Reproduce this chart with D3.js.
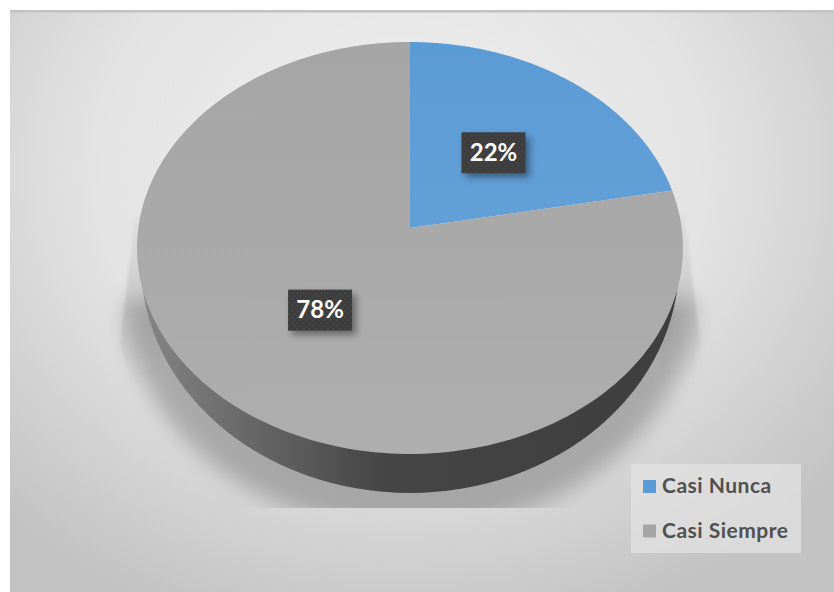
<!DOCTYPE html>
<html>
<head>
<meta charset="utf-8">
<script src="https://d3js.org/d3.v7.min.js"></script>
<style>
html,body{margin:0;padding:0;background:#fff}
svg{display:block}
text{font-family:Lato,"Open Sans",sans-serif}
</style>
</head>
<body>
<svg id="chart" width="834" height="592"></svg>
<script>
const categories = ["Casi Nunca", "Casi Siempre"];
const seriesValues = [22, 78];
const labelTexts = ["22%", "78%"];
const sliceColors = ["#5b9bd5", "#a5a5a5"];

const svg = d3.select("#chart");
const defs = svg.append("defs");

// Panel backdrop: light centre falling off to grey at the edges
const bg = defs.append("radialGradient").attr("id", "panelBg")
  .attr("gradientUnits", "userSpaceOnUse")
  .attr("cx", 400).attr("cy", 170).attr("r", 560)
  .attr("gradientTransform", "translate(400 170) scale(1 0.85) translate(-400 -170)");
bg.append("stop").attr("offset", 0).attr("stop-color", "#f0f0f0");
bg.append("stop").attr("offset", 0.55).attr("stop-color", "#e3e3e3");
bg.append("stop").attr("offset", 1).attr("stop-color", "#c3c3c3");

svg.append("rect").attr("x", 10).attr("y", 10).attr("width", 824).attr("height", 582)
  .attr("fill", "url(#panelBg)");
svg.append("rect").attr("x", 10).attr("y", 10).attr("width", 824).attr("height", 2.5)
  .attr("fill", "#c2c2c2");

// Perspective projection of the unit disc onto the tilted pie plane
const cx = 410, apexY = 228, planeA = 271.7, planeB = 204, tilt = 0.097;
const project = (angle, radius) => {
  const u = Math.sin(angle) * radius;
  const v = -Math.cos(angle) * radius;
  const w = 1 - tilt * v;
  return [cx + planeA * u / w, apexY + planeB * v / w];
};

// Slab edge gradient
const wall = defs.append("linearGradient").attr("id", "wallFill")
  .attr("gradientUnits", "userSpaceOnUse")
  .attr("x1", 137).attr("x2", 683).attr("y1", 0).attr("y2", 0);
wall.append("stop").attr("offset", 0).attr("stop-color", "#868686");
wall.append("stop").attr("offset", 0.25).attr("stop-color", "#616161");
wall.append("stop").attr("offset", 0.45).attr("stop-color", "#454545");
wall.append("stop").attr("offset", 1).attr("stop-color", "#3e3e3e");

const blurWide = defs.append("filter").attr("id", "blurWide")
  .attr("x", "-10%").attr("y", "-10%").attr("width", "120%").attr("height", "120%");
blurWide.append("feGaussianBlur").attr("stdDeviation", 11);
const blurTight = defs.append("filter").attr("id", "blurTight")
  .attr("x", "-30%").attr("y", "-10%").attr("width", "160%").attr("height", "120%");
blurTight.append("feGaussianBlur").attr("stdDeviation", 1.5);

// The cast shadow stops dead along a horizontal line under the slab
defs.append("clipPath").attr("id", "shadowClip").append("rect")
  .attr("x", 0).attr("y", 0).attr("width", 834).attr("height", 508);
defs.append("clipPath").attr("id", "wallClip").append("rect")
  .attr("x", 0).attr("y", 270).attr("width", 834).attr("height", 322);

const shadowLayer = svg.append("g").attr("clip-path", "url(#shadowClip)");

// Soft pool of shadow around the lower half
shadowLayer.append("path")
  .attr("d", "M126,300 C126,420 250,530 410,530 C570,530 694,420 694,300 Z")
  .attr("fill", "#7e7e7e").attr("opacity", 0.55)
  .attr("filter", "url(#blurWide)");

// Crisper wedges rising beside the disc on both flanks
const wedgeFade = defs.append("linearGradient").attr("id", "wedgeFade")
  .attr("x1", 0).attr("x2", 0).attr("y1", 0).attr("y2", 1);
wedgeFade.append("stop").attr("offset", 0).attr("stop-color", "#8c8c8c").attr("stop-opacity", 0.05);
wedgeFade.append("stop").attr("offset", 0.55).attr("stop-color", "#8c8c8c").attr("stop-opacity", 0.3);
wedgeFade.append("stop").attr("offset", 1).attr("stop-color", "#8c8c8c").attr("stop-opacity", 0);
shadowLayer.append("path")
  .attr("d", "M135,215 L120,345 L135,385 L160,385 L160,215 Z")
  .attr("fill", "url(#wedgeFade)").attr("filter", "url(#blurTight)");
shadowLayer.append("path")
  .attr("d", "M685,215 L700,345 L685,385 L660,385 L660,215 Z")
  .attr("fill", "url(#wedgeFade)").attr("filter", "url(#blurTight)");

// Slab side, then the top disc
svg.append("ellipse")
  .attr("cx", cx).attr("cy", 263).attr("rx", 269).attr("ry", 230)
  .attr("fill", "url(#wallFill)").attr("clip-path", "url(#wallClip)");

const pie = d3.pie().sort(null).value(d => d)(seriesValues);
const line = d3.line();
const sampleAngles = (a0, a1) => d3.range(0, 181).map(i => a0 + (a1 - a0) * i / 180);
const slicePath = d => line([[cx, apexY], ...sampleAngles(d.startAngle, d.endAngle).map(a => project(a, 1))]) + "Z";

svg.selectAll("path.slice").data(pie).join("path")
  .attr("class", "slice")
  .attr("d", slicePath)
  .attr("fill", (d, i) => sliceColors[i]);

// Faint sheen brightening the disc towards the viewer
const sheen = defs.append("linearGradient").attr("id", "sheen")
  .attr("gradientUnits", "userSpaceOnUse")
  .attr("x1", 0).attr("x2", 0).attr("y1", 42).attr("y2", 454);
sheen.append("stop").attr("offset", 0).attr("stop-color", "#fff").attr("stop-opacity", 0);
sheen.append("stop").attr("offset", 1).attr("stop-color", "#fff").attr("stop-opacity", 0.1);
svg.selectAll("path.sheen").data(pie).join("path")
  .attr("class", "sheen")
  .attr("d", slicePath)
  .attr("fill", "url(#sheen)");

// Data labels: dotted dark tile with a drop shadow, at half radius of each slice
const dots = defs.append("pattern").attr("id", "labelDots")
  .attr("patternUnits", "userSpaceOnUse").attr("width", 6).attr("height", 6);
dots.append("rect").attr("width", 6).attr("height", 6).attr("fill", "#3c3c3c");
dots.append("circle").attr("cx", 1.5).attr("cy", 1.5).attr("r", 1).attr("fill", "#4d4d4d");
dots.append("circle").attr("cx", 4.5).attr("cy", 4.5).attr("r", 1).attr("fill", "#4d4d4d");

const tileShadow = defs.append("filter").attr("id", "tileShadow")
  .attr("x", "-40%").attr("y", "-40%").attr("width", "180%").attr("height", "180%");
tileShadow.append("feGaussianBlur").attr("stdDeviation", 3.5);

const labels = svg.selectAll("g.label").data(pie).join("g")
  .attr("class", "label")
  .attr("transform", d => `translate(${project((d.startAngle + d.endAngle) / 2, 0.5)})`);
labels.append("rect")
  .attr("x", -28).attr("y", -15).attr("width", 64).attr("height", 40)
  .attr("fill", "#000").attr("opacity", 0.4).attr("filter", "url(#tileShadow)");
labels.append("rect")
  .attr("x", -32).attr("y", -20).attr("width", 64).attr("height", 41)
  .attr("fill", "url(#labelDots)");
labels.append("text")
  .attr("text-anchor", "middle").attr("y", 8.5)
  .attr("font-size", 24).attr("font-weight", 700).attr("fill", "#fff")
  .text((d, i) => labelTexts[i]);

// Legend
const legend = svg.append("g");
legend.append("rect").attr("x", 631).attr("y", 464).attr("width", 170).attr("height", 89)
  .attr("fill", "#e2e2e2").attr("opacity", 0.75);
const legendY = d3.scalePoint().domain(categories).range([486.5, 531]);
const rows = legend.selectAll("g").data(categories).join("g")
  .attr("transform", d => `translate(643,${legendY(d)})`);
rows.append("rect").attr("y", -6.5).attr("width", 13).attr("height", 13)
  .attr("fill", (d, i) => sliceColors[i]);
rows.append("text").attr("x", 19).attr("y", 6.5)
  .attr("font-size", 21).attr("font-weight", 700).attr("letter-spacing", 0.5).attr("fill", "#505050")
  .text(d => d);
</script>
</body>
</html>
